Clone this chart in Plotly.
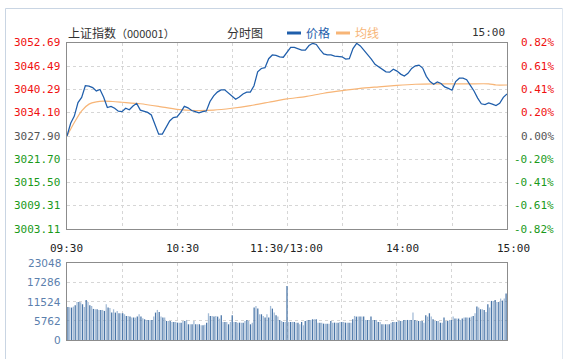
import plotly.graph_objects as go

W, H = 566, 359

# ---------------- data ----------------
price_min = list(range(0, 241, 2))
price = [
    3027.9, 3031.3, 3033.2, 3036.8, 3038.2, 3041.3, 3041.2, 3040.8, 3039.9, 3040.3,
    3038.2, 3035.5, 3035.8, 3035.3, 3034.5, 3034.4, 3035.3, 3034.9, 3035.9, 3036.6,
    3034.8, 3034.4, 3034.2, 3033.5, 3030.8, 3028.4, 3028.4, 3030.1, 3031.9, 3032.8,
    3033.0, 3034.2, 3035.8, 3035.4, 3034.7, 3034.4, 3034.1, 3034.4, 3034.6, 3037.1,
    3038.6, 3039.6, 3040.2, 3040.2, 3039.3, 3038.6, 3037.7, 3038.3, 3039.1, 3039.6,
    3039.6, 3041.3, 3045.0, 3045.9, 3046.1, 3048.5, 3049.5, 3049.4, 3049.0, 3048.9,
    3050.2, 3051.5, 3051.5, 3051.2, 3050.8, 3050.8, 3052.0, 3052.6, 3052.3, 3050.9,
    3049.8, 3049.5, 3049.5, 3049.2, 3049.2, 3049.0, 3048.4, 3048.5, 3051.2, 3052.6,
    3051.9, 3050.8, 3049.7, 3048.4, 3047.0, 3046.3, 3045.5, 3045.0, 3044.9, 3045.7,
    3045.2, 3044.4, 3043.9, 3044.6, 3045.9, 3046.6, 3046.8, 3046.0, 3043.8, 3042.4,
    3041.7, 3042.3, 3041.9, 3041.0, 3040.6, 3040.1, 3042.4, 3043.3, 3043.3, 3042.9,
    3041.4, 3039.9, 3038.0, 3036.5, 3036.3, 3036.7, 3036.4, 3036.0, 3036.6, 3038.2,
    3039.1,
]

avg_min = [0, 4, 8, 12, 16, 20, 25, 30, 40, 50, 60, 70, 80, 90, 100, 110, 120,
           130, 140, 150, 160, 170, 180, 190, 200, 210, 220, 230, 234, 240]
avg = [3027.9, 3031.5, 3034.6, 3036.4, 3037.0, 3037.2, 3037.1, 3036.9, 3036.5,
       3035.8, 3035.0, 3034.7, 3034.8, 3035.3, 3036.0, 3036.9, 3037.8, 3038.4,
       3039.3, 3040.0, 3040.6, 3041.0, 3041.4, 3041.7, 3041.8, 3041.8, 3041.8,
       3041.8, 3041.5, 3041.5]

vol_min = list(range(241))
volume = [
    9900, 9800, 9700, 10000, 10400, 11400, 11400, 11300, 10700, 9900,
    12000, 11400, 10400, 10200, 9300, 9200, 9200, 9000, 9000, 9000,
    8700, 10700, 9700, 9600, 8200, 9200, 8200, 8700, 8000, 8000,
    8000, 7700, 7200, 7200, 7000, 6700, 6700, 6700, 7000, 7700,
    7000, 6500, 6200, 6000, 6000, 6000, 6000, 7000, 8200, 9000,
    8400, 7000, 6700, 6700, 5700, 5700, 5700, 5400, 5400, 5400,
    5200, 5200, 5200, 5700, 5700, 6000, 4700, 4700, 4700, 5700,
    4700, 4700, 4700, 4400, 4400, 4600, 5200, 8000, 7200, 7200,
    7000, 7200, 7000, 6400, 7400, 5400, 5400, 5400, 4700, 5400,
    7400, 5400, 5400, 5200, 5200, 5200, 5200, 5700, 6000, 5700,
    4700, 5200, 9700, 10200, 9400, 7700, 7700, 7200, 6700, 7700,
    6700, 10200, 9400, 8200, 7400, 7000, 6000, 5700, 5400, 5400,
    16200, 5400, 5400, 5400, 5400, 5200, 5200, 4700, 5400, 4400,
    5700, 5900, 6000, 6000, 6200, 6200, 6200, 5200, 5200, 5200,
    4900, 4900, 4900, 4900, 5700, 5200, 5200, 5200, 5200, 5400,
    5400, 5400, 5200, 5200, 5200, 5200, 6200, 7200, 7000, 7000,
    7000, 7000, 7000, 6000, 6000, 6000, 7000, 6000, 6000, 6000,
    5400, 5400, 4700, 4700, 4700, 4700, 4700, 5200, 5400, 5400,
    5400, 5700, 5700, 5700, 6000, 6000, 6000, 6000, 6000, 8200,
    6000, 5700, 5700, 5700, 5700, 5200, 7400, 7000, 8000, 7000,
    6200, 5700, 5700, 5700, 5200, 5200, 6700, 5700, 5700, 6000,
    6000, 7000, 6400, 6400, 6400, 6000, 6400, 6700, 6700, 6700,
    6700, 7000, 7200, 8000, 10000, 9700, 9200, 9200, 9000, 8400,
    10700, 9700, 11700, 11700, 12000, 11400, 11400, 12400, 11800, 12400,
    13900,
]

price_levels = [3052.69, 3046.49, 3040.29, 3034.10, 3027.90, 3021.70, 3015.50, 3009.31, 3003.11]
price_labels = ["3052.69", "3046.49", "3040.29", "3034.10", "3027.90", "3021.70", "3015.50", "3009.31", "3003.11"]
pct_labels = ["0.82%", "0.61%", "0.41%", "0.20%", "0.00%", "-0.20%", "-0.41%", "-0.61%", "-0.82%"]
vol_levels = [23048, 17286, 11524, 5762, 0]
vol_labels = ["23048", "17286", "11524", "5762", "0"]
time_ticks = [0, 60, 120, 180, 240]
time_labels = ["09:30", "10:30", "11:30/13:00", "14:00", "15:00"]
grid_minutes = [30, 60, 90, 120, 150, 180, 210]

# ---------------- style ----------------
RED, GRAY, GREEN = "#f01010", "#555555", "#1a9a1a"
BLUE_LINE, ORANGE_LINE = "#1f5eab", "#f7b577"
VOL_DARK, VOL_LIGHT, VOL_TXT = "#4a76a8", "#a3bbd6", "#5b80ad"
GRID = "#d6d6d6"
BORDER = "#8c8c8c"
MONO = "DejaVu Sans Mono"
CJK = "Noto Sans CJK SC"

def px(x):
    return x / W

def py(y):
    return 1 - y / H

bar_colors = [VOL_DARK if i % 2 == 0 else VOL_LIGHT for i in range(len(volume))]

fig = go.Figure()
fig.add_trace(go.Scatter(x=avg_min, y=avg, mode="lines", line=dict(color=ORANGE_LINE, width=1.2, shape="spline", smoothing=0.6),
                         xaxis="x", yaxis="y", hoverinfo="skip"))
fig.add_trace(go.Scatter(x=price_min, y=price, mode="lines", line=dict(color=BLUE_LINE, width=1.25),
                         xaxis="x", yaxis="y", hoverinfo="skip"))
fig.add_trace(go.Bar(x=vol_min, y=volume, marker=dict(color=bar_colors, line=dict(width=0)),
                     xaxis="x2", yaxis="y2", hoverinfo="skip"))

axis_common = dict(showline=True, mirror=True, linecolor=BORDER, linewidth=1, zeroline=False,
                   showgrid=True, gridcolor=GRID, gridwidth=1, griddash="3px,3px",
                   showticklabels=False, ticks="", fixedrange=True)

fig.update_layout(
    width=W, height=H, margin=dict(l=0, r=0, t=0, b=0),
    paper_bgcolor="white", plot_bgcolor="white", showlegend=False, bargap=0.3,
    xaxis=dict(domain=[px(67), px(507)], range=[0, 240], tickvals=grid_minutes, anchor="y", **axis_common),
    yaxis=dict(domain=[py(229), py(43)], range=[price_levels[-1], price_levels[0]],
               tickvals=price_levels[1:-1], anchor="x", **axis_common),
    xaxis2=dict(domain=[px(67), px(507)], range=[-0.5, 240.5], tickvals=grid_minutes, anchor="y2", **axis_common),
    yaxis2=dict(domain=[py(340), py(263)], range=[0, vol_levels[0]],
                tickvals=vol_levels[1:-1], anchor="x2", **axis_common),
)

ann = []
for lvl, lab, pl in zip(price_levels, price_labels, pct_labels):
    c = RED if lvl > price_levels[4] else (GRAY if lvl == price_levels[4] else GREEN)
    ann.append(dict(x=px(62), xref="paper", y=lvl, yref="y", text=lab, showarrow=False, xanchor="right",
                    yanchor="middle", font=dict(family=MONO, size=11, color=c)))
    ann.append(dict(x=px(556), xref="paper", y=lvl, yref="y", text=pl, showarrow=False, xanchor="right",
                    yanchor="middle", font=dict(family=MONO, size=11, color=c)))
for lvl, lab in zip(vol_levels, vol_labels):
    ann.append(dict(x=px(63), xref="paper", y=lvl, yref="y2", text=lab, showarrow=False, xanchor="right",
                    yanchor="middle", font=dict(family="DejaVu Sans", size=10.5, color=VOL_TXT)))
shifts = [-1, 5, -1, 5, 6]
for t, lab, s in zip(time_ticks, time_labels, shifts):
    ann.append(dict(x=t, xref="x", y=py(248), yref="paper", text=lab, showarrow=False, xanchor="center",
                    yanchor="middle", xshift=s, font=dict(family=MONO, size=11, color="#222")))
# header
ann.append(dict(x=px(66), xref="paper", y=py(33), yref="paper", text="上证指数<span style='font-size:11px'>（000001）</span>",
                showarrow=False, xanchor="left", yanchor="middle", font=dict(family=CJK, size=12, color="#333")))
ann.append(dict(x=px(225), xref="paper", y=py(33), yref="paper", text="分时图",
                showarrow=False, xanchor="left", yanchor="middle", font=dict(family=CJK, size=12, color="#333")))
ann.append(dict(x=px(304), xref="paper", y=py(33), yref="paper", text="价格",
                showarrow=False, xanchor="left", yanchor="middle", font=dict(family=CJK, size=12, color=BLUE_LINE)))
ann.append(dict(x=px(353), xref="paper", y=py(33), yref="paper", text="均线",
                showarrow=False, xanchor="left", yanchor="middle", font=dict(family=CJK, size=12, color=ORANGE_LINE)))
ann.append(dict(x=px(507), xref="paper", y=py(33), yref="paper", text="15:00",
                showarrow=False, xanchor="right", yanchor="middle", font=dict(family=MONO, size=11, color="#333")))
fig.update_layout(annotations=ann)

shapes = [
    dict(type="line", xref="paper", yref="paper", x0=px(287), x1=px(301), y0=py(33), y1=py(33),
         line=dict(color=BLUE_LINE, width=3)),
    dict(type="line", xref="paper", yref="paper", x0=px(336), x1=px(350), y0=py(33), y1=py(33),
         line=dict(color=ORANGE_LINE, width=3)),
    dict(type="line", xref="paper", yref="paper", x0=px(5.5), x1=px(562.5), y0=py(8.5), y1=py(8.5),
         line=dict(color="#c9d5e3", width=1)),
    dict(type="line", xref="paper", yref="paper", x0=px(5.5), x1=px(5.5), y0=py(8.5), y1=0,
         line=dict(color="#c9d5e3", width=1)),
    dict(type="line", xref="paper", yref="paper", x0=px(562.5), x1=px(562.5), y0=py(8.5), y1=0,
         line=dict(color="#dfe7f0", width=1)),
]
fig.update_layout(shapes=shapes)

fig.write_html("out.html", config={"displayModeBar": False, "staticPlot": True})
